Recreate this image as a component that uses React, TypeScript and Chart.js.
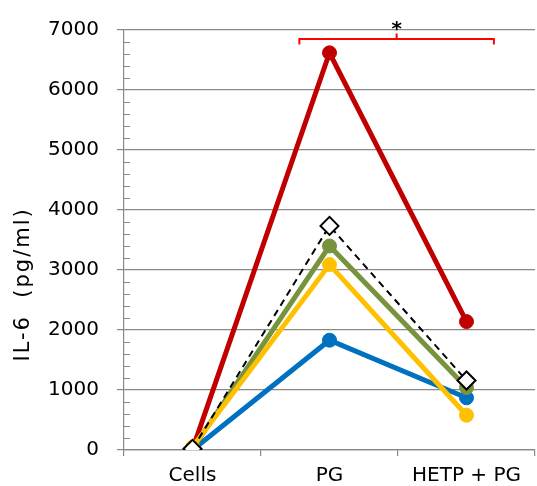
import React, { useEffect, useRef } from "react";
import { Chart, registerables } from "chart.js";

Chart.register(...registerables);

const categories = ["Cells", "PG", "HETP + PG"];
const redValues = [10, 6620, 2140];
const greenValues = [20, 3400, 1040];
const yellowValues = [50, 3090, 580];
const blueValues = [0, 1830, 870];
const meanValues = [20, 3735, 1158];
const yMin = 0;
const yMax = 7000;
const yStep = 1000;
const yMinorStep = 200;
const yAxisTitle = "IL-6  (pg/ml)";
const significanceLabel = "*";
const bracketFrom = 1; // PG
const bracketTo = 2; // HETP + PG
const bracketLevel = 6850;

const FONT = "DejaVu Sans";
const GRID = "#888888";

const minorTicksPlugin = {
  id: "minorTicks",
  afterDraw(chart: any) {
    const y = chart.scales.y;
    const ctx = chart.ctx;
    const x0 = chart.chartArea.left;
    ctx.save();
    ctx.strokeStyle = GRID;
    ctx.lineWidth = 1;
    for (let v = yMin; v <= yMax; v += yMinorStep) {
      if (v % yStep === 0) continue;
      const py = Math.round(y.getPixelForValue(v)) + 0.5;
      ctx.beginPath();
      ctx.moveTo(x0, py);
      ctx.lineTo(x0 + 6, py);
      ctx.stroke();
    }
    ctx.restore();
  },
};

const yTitlePlugin = {
  id: "yTitle",
  afterDraw(chart: any) {
    const ctx = chart.ctx;
    const y = chart.scales.y;
    const cy = y.getPixelForValue(2760);
    ctx.save();
    ctx.translate(24, cy);
    ctx.rotate(-Math.PI / 2);
    ctx.fillStyle = "#000000";
    ctx.font = `21px "${FONT}"`;
    try {
      (ctx as any).letterSpacing = "2px";
    } catch (e) {}
    ctx.textAlign = "center";
    ctx.textBaseline = "middle";
    ctx.fillText(yAxisTitle, 0, 0);
    ctx.restore();
  },
};

const bracketPlugin = {
  id: "bracket",
  afterDatasetsDraw(chart: any) {
    const x = chart.scales.x;
    const y = chart.scales.y;
    const ctx = chart.ctx;
    const step = x.getPixelForValue(bracketTo) - x.getPixelForValue(bracketFrom);
    const x1 = x.getPixelForValue(bracketFrom) - step * 0.22;
    const x2 = x.getPixelForValue(bracketTo) + step * 0.2;
    const xm = (x1 + x2) / 2;
    const py = y.getPixelForValue(bracketLevel);
    ctx.save();
    ctx.strokeStyle = "#ff0000";
    ctx.lineWidth = 2;
    ctx.beginPath();
    ctx.moveTo(x1, py + 5.5);
    ctx.lineTo(x1, py);
    ctx.lineTo(x2, py);
    ctx.lineTo(x2, py + 5.5);
    ctx.moveTo(xm, py);
    ctx.lineTo(xm, py - 5.5);
    ctx.stroke();
    ctx.fillStyle = "#000000";
    ctx.font = `bold 20px "${FONT}"`;
    ctx.textAlign = "center";
    ctx.textBaseline = "alphabetic";
    ctx.fillText(significanceLabel, xm, py - 4);
    ctx.restore();
  },
};

function lineDataset(label: string, data: number[], color: string, order: number) {
  return {
    label,
    data,
    borderColor: color,
    backgroundColor: color,
    borderWidth: 5,
    pointRadius: 7,
    pointHoverRadius: 7,
    pointBackgroundColor: color,
    pointBorderColor: color,
    pointBorderWidth: 1,
    tension: 0,
    order,
  };
}

export default function App() {
  const ref = useRef<HTMLCanvasElement | null>(null);

  useEffect(() => {
    document.body.style.margin = "0";
    if (!ref.current) return;
    const chart = new Chart(ref.current, {
      type: "line",
      data: {
        labels: categories,
        datasets: [
          {
            label: "Mean",
            data: meanValues,
            borderColor: "#000000",
            backgroundColor: "#ffffff",
            borderWidth: 2,
            borderDash: [7, 5],
            pointStyle: "rectRot",
            pointRadius: 9,
            pointHoverRadius: 9,
            pointBackgroundColor: "#ffffff",
            pointBorderColor: "#000000",
            pointBorderWidth: 2,
            order: 0,
          } as any,
          lineDataset("Yellow", yellowValues, "#ffc000", 1),
          lineDataset("Green", greenValues, "#77933c", 2),
          lineDataset("Red", redValues, "#c00000", 3),
          lineDataset("Blue", blueValues, "#0070c0", 4),
        ],
      },
      options: {
        responsive: false,
        animation: false,
        events: [],
        layout: { autoPadding: false, padding: { top: 27, right: 2, left: 0, bottom: 0 } },
        plugins: {
          legend: { display: false },
          tooltip: { enabled: false },
        },
        scales: {
          x: {
            type: "category",
            offset: true,
            grid: {
              offset: true,
              drawOnChartArea: false,
              drawTicks: true,
              tickLength: 6,
              color: GRID,
              lineWidth: 1.2,
            },
            border: { display: true, color: GRID, width: 1.2 },
            ticks: {
              color: "#000000",
              font: { family: FONT, size: 20 },
              padding: 8,
              maxRotation: 0,
            },
            afterFit: (s: any) => {
              s.height = 36;
            },
          },
          y: {
            min: yMin,
            max: yMax,
            ticks: {
              stepSize: yStep,
              color: "#000000",
              font: { family: FONT, size: 20 },
              padding: 18,
              callback: (v: any) => String(v),
            },
            grid: {
              color: GRID,
              lineWidth: 1.2,
              tickLength: 7,
            },
            border: { display: true, color: GRID, width: 1.2 },
            afterFit: (s: any) => {
              s.width = 124;
            },
          },
        },
      } as any,
      plugins: [minorTicksPlugin, bracketPlugin, yTitlePlugin],
    });
    return () => chart.destroy();
  }, []);

  return (
    <div style={{ width: 537, height: 486, position: "relative" }}>
      <canvas ref={ref} width={537} height={486} style={{ display: "block" }} />
    </div>
  );
}
